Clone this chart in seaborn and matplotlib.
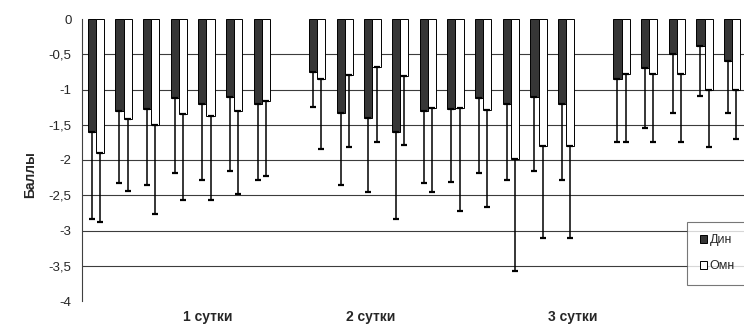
import matplotlib
matplotlib.use("Agg")
import matplotlib.pyplot as plt
from matplotlib.patches import Patch
from matplotlib.ticker import FuncFormatter
import numpy as np
import pandas as pd
import seaborn as sns

# values (bars go down from 0, error bars go down only)
day1_din = [-1.60, -1.31, -1.28, -1.12, -1.21, -1.10, -1.21]
day1_omn = [-1.90, -1.42, -1.50, -1.35, -1.38, -1.31, -1.16]
day1_din_err = [1.24, 1.01, 1.07, 1.07, 1.08, 1.06, 1.08]
day1_omn_err = [0.98, 1.02, 1.26, 1.22, 1.19, 1.17, 1.07]

day2_din = [-0.75, -1.33, -1.40, -1.60, -1.31, -1.28, -1.12, -1.21, -1.10, -1.21]
day2_omn = [-0.85, -0.79, -0.68, -0.81, -1.26, -1.26, -1.29, -1.99, -1.80, -1.80]
day2_din_err = [0.50, 1.03, 1.06, 1.24, 1.01, 1.03, 1.07, 1.08, 1.06, 1.08]
day2_omn_err = [0.99, 1.03, 1.06, 0.98, 1.20, 1.47, 1.38, 1.58, 1.30, 1.30]

day3_din = [-0.85, -0.70, -0.50, -0.39, -0.60]
day3_omn = [-0.78, -0.78, -0.78, -1.00, -1.00]
day3_din_err = [0.89, 0.85, 0.83, 0.70, 0.74]
day3_omn_err = [0.97, 0.97, 0.97, 0.82, 0.70]

series_names = ["Дин", "Омн"]
group_labels = ["1 сутки", "2 сутки", "3 сутки"]
group_start = [0, 8, 19]          # first category slot of each day
label_slots = [4.05, 9.95, 17.25]  # where Excel put the day labels
n_slots = 24

groups = [
    (day1_din, day1_omn, day1_din_err, day1_omn_err),
    (day2_din, day2_omn, day2_din_err, day2_omn_err),
    (day3_din, day3_omn, day3_din_err, day3_omn_err),
]

rows = []
for start, (din, omn, din_e, omn_e) in zip(group_start, groups):
    for i in range(len(din)):
        rows.append({"slot": start + i, "series": "Дин", "value": din[i], "err": din_e[i]})
        rows.append({"slot": start + i, "series": "Омн", "value": omn[i], "err": omn_e[i]})
df = pd.DataFrame(rows)

sns.set_style("white")
plt.rcParams["font.family"] = ["Liberation Sans", "DejaVu Sans"]

fig = plt.figure(figsize=(7.44, 3.25), dpi=100)
ax = fig.add_axes([82 / 744, 24 / 325, 664 / 744, 282 / 325])

palette = {"Дин": "#363636", "Омн": "white"}
sns.barplot(data=df, x="slot", y="value", hue="series", hue_order=series_names,
            native_scale=True, width=0.58, palette=palette, edgecolor="black",
            linewidth=0.7, errorbar=None, legend=False, ax=ax, zorder=2)

# one-sided error bars under each bar
for p in ax.patches:
    cx = p.get_x() + p.get_width() / 2
    slot = int(round(cx))
    name = "Дин" if cx < slot else "Омн"
    row = df[(df["slot"] == slot) & (df["series"] == name)]
    if row.empty:
        continue
    bottom = p.get_y() + p.get_height()
    ax.errorbar(cx, bottom, yerr=[[row["err"].iloc[0]], [0]], fmt="none",
                ecolor="black", elinewidth=1.1, capsize=2.4, capthick=1.6, zorder=3)

ax.set_xlim(-0.5, n_slots - 0.5)
ax.set_ylim(-4, 0)
ax.set_yticks(np.arange(-4, 0.01, 0.5))
ax.yaxis.set_major_formatter(FuncFormatter(lambda v, _: f"{v:g}".replace(".", ",")))
ax.set_xticks(label_slots)
ax.set_xticklabels(group_labels, fontsize=10, fontweight="bold")
ax.tick_params(axis="x", length=0, pad=6.5)
ax.tick_params(axis="y", direction="inout", length=7, width=0.8, labelsize=9.5,
               pad=4, color="#404040")

ax.yaxis.grid(True, color="#3c3c3c", linewidth=0.8)
ax.set_axisbelow(True)
grid = ax.get_ygridlines()
grid[0].set_visible(False)
grid[-1].set_visible(False)

for side in ["top", "right", "bottom"]:
    ax.spines[side].set_visible(False)
ax.spines["left"].set_color("#404040")
ax.spines["left"].set_linewidth(0.8)

ax.set_xlabel("")
ax.set_ylabel("Баллы", fontsize=10, fontweight="bold")
ax.yaxis.set_label_coords(-0.068, 0.45)

handles = [Patch(facecolor=palette[s], edgecolor="black", linewidth=0.7) for s in series_names]
leg = fig.legend(handles, series_names, loc="upper left",
                 bbox_to_anchor=(687 / 744, 1 - 222 / 325), bbox_transform=fig.transFigure,
                 fontsize=9, frameon=True, fancybox=False, borderpad=1.0,
                 labelspacing=1.1, handlelength=0.6, handleheight=0.6,
                 handletextpad=0.2, borderaxespad=0)
leg.get_frame().set_edgecolor("#555555")
leg.get_frame().set_linewidth(0.8)

fig.savefig("out.png", dpi=100)
